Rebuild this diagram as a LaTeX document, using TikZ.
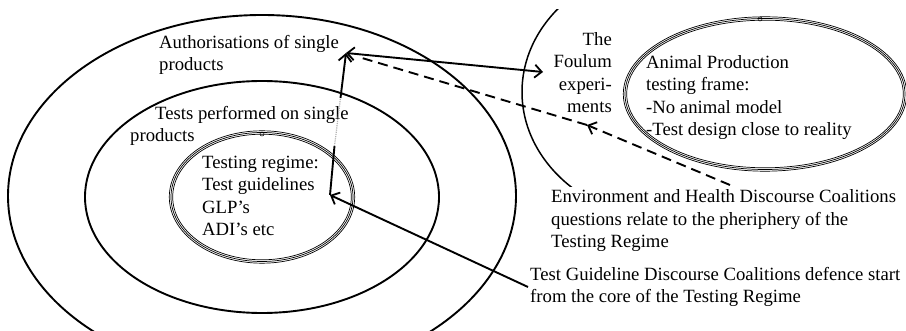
\documentclass[tikz,border=0pt]{standalone}
\usepackage{fontspec}
\setmainfont{Liberation Serif}
\usetikzlibrary{arrows.meta}
\begin{document}
\begin{tikzpicture}[x=1pt,y=-1pt,
  ring/.style={line width=1.9pt},
  thinring/.style={line width=0.7pt},
  lbl/.style={inner sep=0pt, font=\fontsize{18.7}{22.5}\selectfont, align=left, anchor=base west},
  barb/.tip={Straight Barb[length=7pt,width=13pt,line width=1.8pt]},
  arr/.style={line width=1.9pt, -barb},
  dsh/.style={line width=1.9pt, dash pattern=on 10pt off 6pt},
]
\useasboundingbox (0,0) rectangle (906,331);
\clip (0,0) rectangle (906,331);
% left concentric ellipses
\draw[ring] (262,196) ellipse [x radius=254, y radius=181];
\draw[ring] (262,197) ellipse [x radius=177, y radius=116];
\foreach \d in {-1.7,0,1.7}
  \draw[thinring] (262,197) ellipse [x radius=91+\d, y radius=64.5+\d];
\draw[line width=0.5pt] (262,134) circle (2);
% right arc
\begin{scope}
  \clip (0,10) rectangle (620,187);
  \draw[line width=1.5pt] (677,92) ellipse [x radius=155, y radius=130];
\end{scope}
% right triple ellipse
\foreach \d in {-1.7,0,1.7}
  \draw[thinring] (765,94) ellipse [x radius=140+\d, y radius=75.5+\d];
\draw[line width=0.5pt] (760,19) circle (2);
% texts (anchored at the baseline of the last line)
\node[lbl] (authtxt) at (159,71) {Authorisations of single\\products};
\node[lbl] (tests) at (130,142) {\hspace*{25pt}Tests performed on single\\products};
\node[lbl] (regime) at (202,236) {Testing regime:\\Test guidelines\\GLP’s\\ADI’s etc};
\node[lbl, align=right, anchor=base east] (foul) at (612,113) {The\\Foulum\\experi-\\ments};
\node[lbl] (animal) at (646,136) {Animal Production\\testing frame:\\-No animal model\\-Test design close to reality};
\node[lbl] (env) at (551,248) {Environment and Health Discourse Coalitions\\questions relate to the pheriphery of the\\Testing Regime};
\node[lbl] (tg) at (530,303) {Test Guideline Discourse Coalitions defence start\\from the core of the Testing Regime};
% connector points
\coordinate (core) at (330,195);
\coordinate (auth) at (346,53);
\coordinate (fA) at (334.5,146);
\coordinate (fB) at (340.5,98);
\coordinate (foulum) at (543,72);
\coordinate (envtip) at (730,185);
\coordinate (mid) at (587,125);
\coordinate (dstart) at (362,58);
\coordinate (tgend) at (528,287);
% arrows
\draw[line width=1.9pt] (core) -- (fA);
\draw[line width=1.2pt, gray!60, densely dotted] (fA) -- (fB);
\draw[arr] (fB) -- (auth);
\draw[line width=1.9pt, barb-barb] (auth) -- (foulum);
\draw[dsh, -barb] (envtip) -- (mid);
\draw[dsh] (mid) -- (dstart);
\draw[arr] (tgend) -- (core);
\end{tikzpicture}
\end{document}
